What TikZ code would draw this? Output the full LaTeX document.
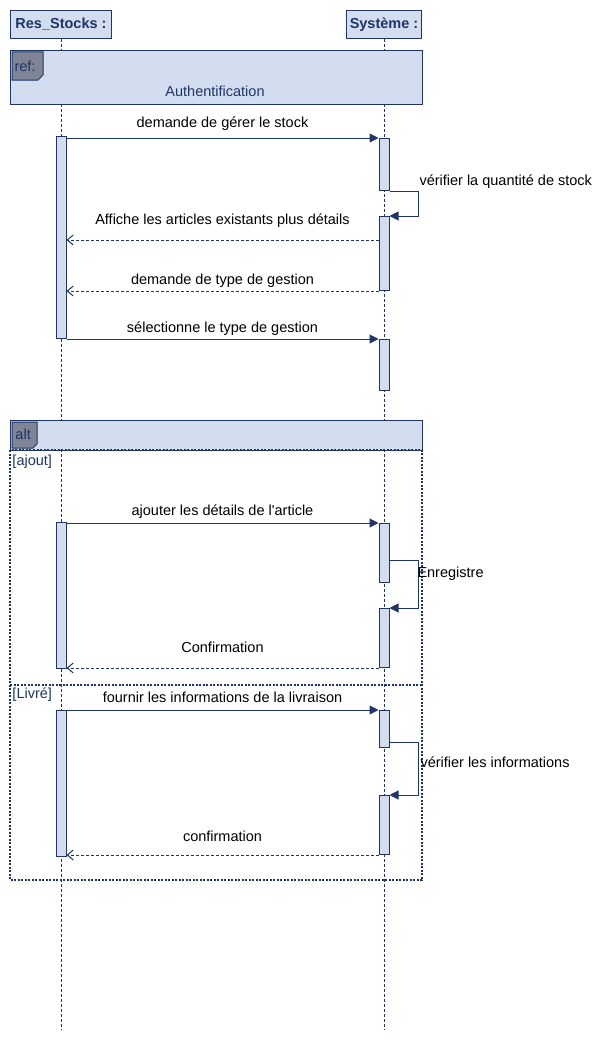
\documentclass[tikz,border=0pt]{standalone}
\usepackage{fontspec}
\setmainfont{Liberation Sans}
\usetikzlibrary{arrows.meta}
\definecolor{umlblue}{HTML}{D2DDF0}
\definecolor{umlline}{HTML}{1F3468}
\definecolor{umltab}{HTML}{7F8594}
\tikzset{
  lifeline/.style={draw=umlline, line width=0.6pt, dash pattern=on 3pt off 2pt},
  obj/.style={draw=umlline, fill=umlblue, text=umlline, font=\fontsize{14.5}{16}\selectfont\bfseries, minimum height=28pt, inner sep=1pt, anchor=north west},
  actbar/.style={draw=umlline, fill=umlblue, minimum width=10pt, inner sep=0pt, anchor=north},
  call/.style={draw=umlline, -{Triangle[length=9pt,width=9pt]}},
  reply/.style={draw=umlline, dash pattern=on 3pt off 2pt, -{Straight Barb[length=6pt,width=10pt]}},
  frameline/.style={draw=umlline, line width=1.2pt, dash pattern=on 2pt off 1.5pt},
}
\begin{document}
\begin{tikzpicture}[x=1pt, y=-1pt, line width=1pt, font=\fontsize{14.5}{16}\selectfont]
        \useasboundingbox (0,0) rectangle (609,1041);
        \node[obj, minimum width=101pt] (res) at (10,10) {Res\_Stocks :};
        \node[obj, minimum width=75pt] (sys) at (346,10) {Système :};
        \coordinate (bottom) at (0,1030);
        \draw[lifeline] (res.south) -- (res.south |- bottom);
        \draw[lifeline] (sys.south) -- (sys.south |- bottom);
        \node[draw=umlline, fill=umlblue, minimum width=412pt, minimum height=54pt, anchor=north west] (ref) at (10,50) {};
        \draw[draw=umlline, fill=umltab] (12,52) -- (43,52) -- (43,75) -- (38,80) -- (12,80) -- cycle;
        \node[anchor=west, text=umlline, inner sep=0pt] (reftag) at (14,66) {ref:};
        \node[text=umlline] (authref) at (215,91) {Authentification};
        \draw[draw=umlline, fill=umlblue] (10,420) rectangle (422,450);
        \draw[draw=umlline, fill=umltab] (12,422) -- (37,422) -- (37,444) -- (33,448) -- (12,448) -- cycle;
        \node[anchor=west, text=umlline, inner sep=0pt] (alttag) at (15,434) {alt};
        \draw[frameline] (10,450) rectangle (422,880);
        \draw[frameline] (10,685) -- (422,685);
        \node[anchor=west, text=umlline, inner sep=0pt] (g1) at (12,462) {[ajout]};
        \node[anchor=west, text=umlline, inner sep=0pt] (g2) at (12,695) {[Livré]};
        \node[actbar, minimum height=202pt] (r1) at (61,136) {};
        \node[actbar, minimum height=52pt] (s1) at (384,138) {};
        \node[actbar, minimum height=74pt] (s2) at (384,216) {};
        \node[actbar, minimum height=51pt] (s3) at (384,339) {};
        \node[actbar, minimum height=146pt] (r2) at (61,522) {};
        \node[actbar, minimum height=59pt] (s4) at (384,523) {};
        \node[actbar, minimum height=59pt] (s5) at (384,608) {};
        \node[actbar, minimum height=146pt] (r3) at (61,710) {};
        \node[actbar, minimum height=37pt] (s6) at (384,710) {};
        \node[actbar, minimum height=59pt] (s7) at (384,795) {};
        \coordinate (y240) at (0,240);
        \coordinate (y560) at (0,560);
        \coordinate (y742) at (0,742);
        \draw[call] (s1.north west -| r1.east) -- node[above=4pt] {demande de gérer le stock} (s1.north west);
        \draw[call] (s1.south east) -- ++(29,0) |- (s2.north east);
        \node[anchor=west, inner sep=0pt] (chk) at (419,182) {vérifier la quantité de stock};
        \draw[reply] (s2.west |- y240) -- node[above=9pt] {Affiche les articles existants plus détails} (r1.east |- y240);
        \draw[reply] (s2.south west) -- node[above=0pt] {demande de type de gestion} (s2.south west -| r1.east);
        \draw[call] (s3.north west -| r1.east) -- node[above=0pt] {sélectionne le type de gestion} (s3.north west);
        \draw[call] (s4.north west -| r2.east) -- node[above=1pt] {ajouter les détails de l\textquotesingle article} (s4.north west);
        \draw[call] (s4.east |- y560) -- ++(29,0) |- (s5.north east);
        \node[anchor=west, inner sep=0pt] (save) at (417,574) {Enregistre};
        \draw[reply] (s5.south west) -- node[above=12pt] {Confirmation} (s5.south west -| r2.east);
        \draw[call] (s6.north west -| r3.east) -- node[above=4pt] {fournir les informations de la livraison} (s6.north west);
        \draw[call] (s6.east |- y742) -- ++(29,0) |- (s7.north east);
        \node[anchor=west, inner sep=0pt] (chkinfo) at (420,762) {vérifier les informations};
        \draw[reply] (s7.south west) -- node[above=10pt] {confirmation} (s7.south west -| r3.east);
\end{tikzpicture}
\end{document}
